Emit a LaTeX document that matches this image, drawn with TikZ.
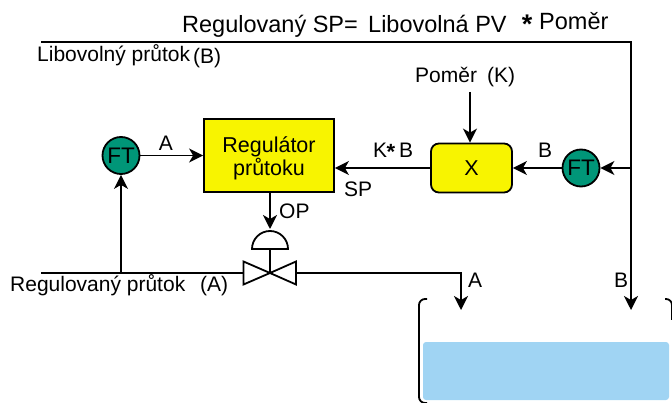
\documentclass[tikz,border=0pt]{standalone}
\usepackage{fontspec}
\setmainfont{Liberation Sans}
\usetikzlibrary{positioning, arrows.meta}
\definecolor{ftgreen}{RGB}{0,150,120}
\definecolor{ctlyellow}{RGB}{248,244,0}
\definecolor{waterblue}{RGB}{160,212,243}
\tikzset{
  pipe/.style={line width=1.8pt},
  flow/.style={pipe, -{Stealth[length=14pt,width=14pt,inset=4pt]}},
  ftnode/.style={circle, draw, line width=1.8pt, fill=ftgreen, minimum size=37pt, inner sep=0pt, font=\fontsize{22.5}{24}\selectfont},
  ctlbox/.style={draw, line width=1.8pt, fill=ctlyellow, inner sep=0pt, align=center, font=\fontsize{21.5}{23}\selectfont},
  lbl/.style={inner sep=0pt, font=\fontsize{21}{23}\selectfont},
  titlelbl/.style={lbl, font=\fontsize{23.5}{25}\selectfont},
  starlbl/.style={inner sep=0pt, font=\fontsize{22}{24}\selectfont\bfseries}
}
\begin{document}
\begin{tikzpicture}[x=1pt, y=-1pt]
    \useasboundingbox (0,0) rectangle (672,403);
    \fill[waterblue, rounded corners=3pt] (423,342) rectangle (669,400);
    \node[ctlbox, minimum width=130pt, minimum height=73pt] (reg) at (269,155.5) {\rule{0pt}{21pt}Regulátor\\průtoku};
    \node[ctlbox, rounded corners=8pt, minimum width=81pt, minimum height=49pt] (ratio) at (471.5,168) {X};
    \node[ftnode, right of=ratio, node distance=109.5pt] (ftb) {FT};
    \node[ftnode] (fta) at (121,155.5) {FT};
    \coordinate (topleft) at (41,42);
    \coordinate (topright) at (631,42);
    \coordinate (tankb) at (631,310);
    \coordinate (tapb) at (631,168);
    \coordinate (ratioin) at (470,92);
    \coordinate (dome) at (270,249);
    \coordinate (valve) at (270,273);
    \coordinate (pipein) at (41,273);
    \coordinate (tapa) at (121,273);
    \coordinate (bend) at (461,273);
    \coordinate (tanka) at (461,310);
    % valve and actuator
    \draw[pipe, fill=white] (valve) -- (243.5,261.5) -- (243.5,284.5) -- cycle;
    \draw[pipe, fill=white] (valve) -- (296,261.5) -- (296,284.5) -- cycle;
    \draw[pipe] (252,249) arc (180:360:18) -- cycle;
    \draw[pipe] (dome) -- (valve);
    \path[flow]
    (ftb) edge (ratio)
    (ratio) edge (reg.east |- ratio)
    (tapb) edge (ftb)
    (ratioin) edge (ratioin |- ratio.north)
    (fta) edge (reg)
    (tapa) edge (fta)
    (reg.south -| dome) edge (270,229);
    \draw[flow] (topleft) -- (topright) -- (tankb);
    \draw[pipe] (pipein) -- (243.5,273);
    \draw[flow] (296,273) -- (bend) -- (tanka);
    % tank walls
    \draw[pipe, rounded corners=6pt] (427,299) -- (419,299) -- (419,403) -- (427,403);
    \draw[pipe, rounded corners=6pt] (665,299) -- (672,299) -- (672,320);
    % labels
    \node[titlelbl, anchor=base west] (title) at (182,32.5) {Regulovaný SP=};
    \node[titlelbl, anchor=base west] (pvname) at (368,32.5) {Libovolná PV};
    \node[starlbl, font=\fontsize{27}{27}\selectfont\bfseries] (starname) at (527,24.5) {*};
    \node[titlelbl, anchor=base west] (ratname) at (539,30) {Poměr};
    \node[lbl, anchor=base west] (lineb) at (37,62) {Libovolný průtok};
    \node[lbl, anchor=base west] (lineb2) at (193,63.5) {(B)};
    \node[lbl, anchor=base west] (ratiolbl) at (415,83) {Poměr};
    \node[lbl, anchor=base west] (ratiok) at (487,83) {(K)};
    \node[lbl, anchor=base] (aa) at (166,151) {A};
    \node[lbl, anchor=base west] (kk) at (373,158) {K};
    \node[starlbl] (kstar) at (391,152) {*};
    \node[lbl, anchor=base west] (kb) at (399,158) {B};
    \node[lbl, anchor=base west] (sp) at (344,197) {SP};
    \node[lbl, anchor=base] (bb) at (545,158) {B};
    \node[lbl, anchor=base west] (op) at (279,219) {OP};
    \node[lbl, anchor=base west] (linea) at (10,292) {Regulovaný průtok};
    \node[lbl, anchor=base west] (linea2) at (200,292) {(A)};
    \node[lbl, anchor=base] (ta) at (475,288) {A};
    \node[lbl, anchor=base] (tb) at (621,288) {B};
\end{tikzpicture}
\end{document}
